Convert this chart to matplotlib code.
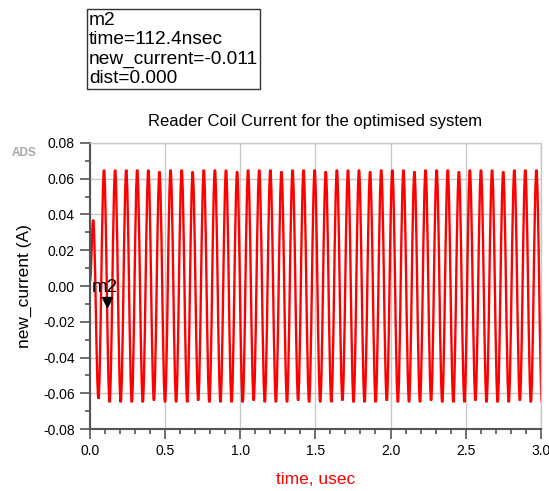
import numpy as np
import matplotlib
matplotlib.use('Agg')
import matplotlib.pyplot as plt
from matplotlib.ticker import MultipleLocator
from matplotlib.path import Path
from matplotlib.patches import PathPatch
import matplotlib.transforms as mtrans

plt.rcParams['font.family'] = ['Liberation Sans', 'DejaVu Sans']

# start-up transient (time in usec, current in A)
start_t = [0.000, 0.021, 0.056]
start_i = [0.003, 0.037, -0.063]

# positive peaks of the steady-state oscillation
peak_t = [0.093, 0.167, 0.241, 0.314, 0.388, 0.462, 0.536, 0.610, 0.683, 0.757,
          0.831, 0.905, 0.979, 1.052, 1.126, 1.200, 1.274, 1.348, 1.421, 1.495,
          1.569, 1.643, 1.717, 1.790, 1.864, 1.938, 2.012, 2.086, 2.159, 2.233,
          2.307, 2.381, 2.455, 2.528, 2.602, 2.676, 2.750, 2.824, 2.897, 2.971]
peak_i = [0.065, 0.065, 0.065, 0.065, 0.065, 0.064, 0.065, 0.065, 0.064, 0.065,
          0.065, 0.065, 0.064, 0.065, 0.065, 0.065, 0.064, 0.065, 0.065, 0.065,
          0.064, 0.065, 0.065, 0.065, 0.064, 0.065, 0.065, 0.065, 0.064, 0.065,
          0.065, 0.065, 0.064, 0.065, 0.065, 0.065, 0.064, 0.065, 0.065, 0.065]

# negative peaks
trough_t = [0.130, 0.204, 0.278, 0.351, 0.425, 0.499, 0.573, 0.647, 0.720, 0.794,
            0.868, 0.942, 1.016, 1.089, 1.163, 1.237, 1.311, 1.385, 1.458, 1.532,
            1.606, 1.680, 1.754, 1.827, 1.901, 1.975, 2.049, 2.123, 2.196, 2.270,
            2.344, 2.418, 2.492, 2.565, 2.639, 2.713, 2.787, 2.861, 2.934, 3.008]
trough_i = [-0.065, -0.065, -0.065, -0.065, -0.064, -0.065, -0.065, -0.065, -0.064, -0.065,
            -0.065, -0.065, -0.065, -0.064, -0.065, -0.065, -0.065, -0.064, -0.065, -0.065,
            -0.065, -0.064, -0.065, -0.065, -0.065, -0.064, -0.065, -0.065, -0.065, -0.064,
            -0.065, -0.065, -0.065, -0.064, -0.065, -0.065, -0.065, -0.064, -0.065, -0.065]

# marker m2
m2_t = 0.1124
m2_i = -0.011

t = list(start_t)
cur = list(start_i)
for k in range(len(peak_t)):
    t.append(peak_t[k]); cur.append(peak_i[k])
    t.append(trough_t[k]); cur.append(trough_i[k])

# smooth cubic segments between successive extrema (flat tangent at each one)
c = 0.364
verts = [(t[0], cur[0])]
codes = [Path.MOVETO]
for k in range(1, len(t)):
    h = t[k] - t[k - 1]
    verts += [(t[k - 1] + c * h, cur[k - 1]), (t[k] - c * h, cur[k]), (t[k], cur[k])]
    codes += [Path.CURVE4] * 3

fig = plt.figure(figsize=(5.49, 4.91), dpi=100)
ax = fig.add_axes([0.164, 0.126, 0.821, 0.583])

wave = PathPatch(Path(verts, codes), fill=False, edgecolor='#ff0000', lw=1.7,
                 transform=ax.transData)
ax.add_patch(wave)

ax.set_xlim(0, 3.0)
ax.set_ylim(-0.08, 0.08)
ax.xaxis.set_major_locator(MultipleLocator(0.5))
ax.xaxis.set_minor_locator(MultipleLocator(0.1))
ax.yaxis.set_major_locator(MultipleLocator(0.02))
ax.yaxis.set_minor_locator(MultipleLocator(0.01))
ax.xaxis.set_major_formatter(plt.FormatStrFormatter('%.1f'))
ax.yaxis.set_major_formatter(plt.FormatStrFormatter('%.2f'))
ax.grid(True, which='major', color='#c8c8c8', lw=1)
ax.set_axisbelow(True)

for s in ['top', 'right']:
    ax.spines[s].set_color('#c8c8c8')
    ax.spines[s].set_linewidth(1)
for s in ['left', 'bottom']:
    ax.spines[s].set_color('#555555')
    ax.spines[s].set_linewidth(1.5)

ax.tick_params(which='major', direction='out', length=7, width=1.2, color='#555555',
               labelsize=10, pad=4)
ax.tick_params(which='minor', direction='out', length=3.5, width=1.2, color='#555555')
ax.tick_params(top=False, right=False, which='both')

ax.set_title('Reader Coil Current for the optimised system', fontsize=12, pad=12)
ax.set_ylabel('new_current (A)', fontsize=12.5, labelpad=8)
ax.set_xlabel('time, usec', fontsize=12.5, color='#ff0000', labelpad=10)

# marker triangle sits just above the point
tr = mtrans.offset_copy(ax.transData, fig=fig, x=0, y=4, units='dots')
ax.plot([m2_t], [m2_i], marker='v', color='black', ms=7, transform=tr, clip_on=False)
ax.annotate('m2', (m2_t, m2_i), xytext=(-15, 10), textcoords='offset pixels',
            fontsize=13.5, ha='left', va='bottom')

fig.text(0.162, 0.976,
         'm2\ntime=%.1fnsec\nnew_current=%.3f\ndist=0.000' % (m2_t * 1000, m2_i),
         fontsize=13.8, ha='left', va='top', linespacing=1.18,
         bbox=dict(boxstyle='square,pad=0.12', fc='white', ec='#333333', lw=1))

fig.text(0.022, 0.683, 'ADS', fontsize=8.5, fontweight='bold', color='#a8a8a8')

fig.savefig('out.png', dpi=100)
